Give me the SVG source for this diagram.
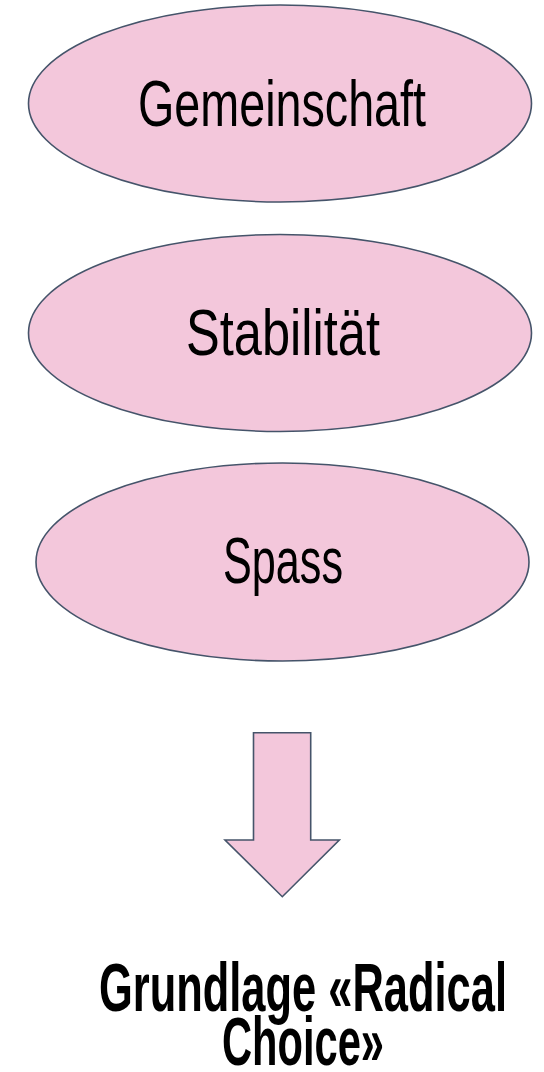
<svg xmlns="http://www.w3.org/2000/svg" width="544" height="1072" viewBox="0 0 544 1072">
<style>
.shape{fill:#F3C7DB;stroke:#45546A;stroke-width:1.6}
.lbl{font-family:"Liberation Sans Narrow","Liberation Sans","DejaVu Sans Condensed",sans-serif;font-size:65px;fill:#000}
.ttl{font-family:"Liberation Sans Narrow","Liberation Sans","DejaVu Sans Condensed",sans-serif;font-size:68px;font-weight:bold;fill:#000}
</style>
<rect width="544" height="1072" fill="#fff"/>
<g id="gemeinschaft">
<ellipse class="shape" cx="280" cy="103.5" rx="251.5" ry="98.5"/>
<text class="lbl" transform="translate(138,126) scale(0.876,1)" x="0" y="0" textLength="328.8" lengthAdjust="spacingAndGlyphs">Gemeinschaft</text>
</g>
<g id="stabilitaet">
<ellipse class="shape" cx="280" cy="333" rx="251.5" ry="98.5"/>
<text class="lbl" transform="translate(186,355) scale(0.949,1)" x="0" y="0" textLength="204.4" lengthAdjust="spacingAndGlyphs">Stabilität</text>
</g>
<g id="spass">
<ellipse class="shape" cx="282.5" cy="562" rx="246.5" ry="99"/>
<text class="lbl" transform="translate(223,583) scale(0.81,1)" x="0" y="0" textLength="148.1" lengthAdjust="spacingAndGlyphs">Spass</text>
</g>
<g id="connectors">
<path class="shape" d="M253.5,732.7 H310.7 V840 H339.3 L282.3,896.7 L225,840 H253.5 Z"/>
</g>
<g id="grundlage">
<text class="ttl" transform="translate(99,1011) scale(0.779,1)" x="0" y="0" textLength="523.7" lengthAdjust="spacingAndGlyphs">Grundlage «Radical</text>
<text class="ttl" transform="translate(222,1065) scale(0.747,1)" x="0" y="0" textLength="216.9" lengthAdjust="spacingAndGlyphs">Choice»</text>
</g>
</svg>
